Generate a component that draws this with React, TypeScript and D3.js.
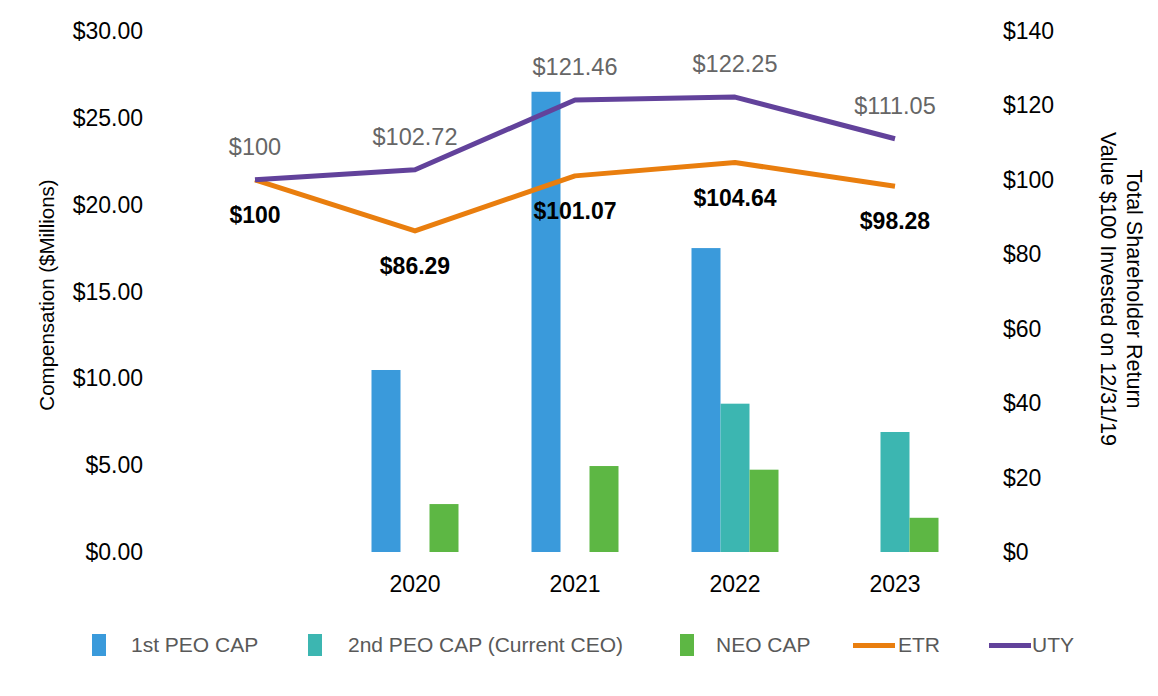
import React from "react";
import * as d3 from "d3";

const years = ["2019", "2020", "2021", "2022", "2023"];
const yearLabels = ["", "2020", "2021", "2022", "2023"];
const peo1Cap: (number | null)[] = [null, 10.48, 26.5, 17.5, null];
const peo2Cap: (number | null)[] = [null, null, null, 8.54, 6.91];
const neoCap: (number | null)[] = [null, 2.76, 4.95, 4.74, 1.97];
const etr = [100, 86.29, 101.07, 104.64, 98.28];
const uty = [100, 102.72, 121.46, 122.25, 111.05];
const leftTicks = [0, 5, 10, 15, 20, 25, 30];
const rightTicks = [0, 20, 40, 60, 80, 100, 120, 140];

const W = 1158, H = 696;
const FONT = "'Liberation Sans', Arial, sans-serif";
const C = { peo1: "#3A9ADB", peo2: "#3CB6B1", neo: "#5DB744", etr: "#E97E0E", uty: "#62429B" };

export default function App() {
  const x = d3.scaleBand<string>().domain(years).range([175, 975]);
  const yL = d3.scaleLinear().domain([0, 30]).range([552, 31]);
  const yR = d3.scaleLinear().domain([0, 140]).range([552, 31]);
  const barW = 29;
  const cx = (y: string) => (x(y) as number) + x.bandwidth() / 2;
  const series = [
    { vals: peo1Cap, color: C.peo1, off: -1.5 },
    { vals: peo2Cap, color: C.peo2, off: -0.5 },
    { vals: neoCap, color: C.neo, off: 0.5 },
  ];
  const line = d3.line<number>().x((_, i) => cx(years[i])).y((d) => yR(d));
  const legend = [
    { type: "rect", color: C.peo1, label: "1st PEO CAP", sx: 92, tx: 131 },
    { type: "rect", color: C.peo2, label: "2nd PEO CAP (Current CEO)", sx: 308, tx: 348 },
    { type: "rect", color: C.neo, label: "NEO CAP", sx: 680, tx: 716 },
    { type: "line", color: C.etr, label: "ETR", sx: 853, tx: 898 },
    { type: "line", color: C.uty, label: "UTY", sx: 989, tx: 1032 },
  ];
  const fmt = (v: number) => "$" + (Number.isInteger(v) ? v : v.toFixed(2));
  return (
    <svg width={W} height={H} style={{ position: "absolute", left: 0, top: 0, background: "#fff" }} fontFamily={FONT}>
      <rect width={W} height={H} fill="#fff" />
      {leftTicks.map((t) => (
        <text key={"l" + t} x={143} y={yL(t)} dy="0.35em" textAnchor="end" fontSize={23} fill="#000">
          {"$" + t.toFixed(2)}
        </text>
      ))}
      {rightTicks.map((t) => (
        <text key={"r" + t} x={1003} y={yR(t)} dy="0.35em" textAnchor="start" fontSize={23} fill="#000">
          {"$" + t}
        </text>
      ))}
      <text transform={`translate(54,295) rotate(-90)`} textAnchor="middle" fontSize={20.5} fill="#000">
        Compensation ($Millions)
      </text>
      <text transform={`translate(1127,289) rotate(90)`} textAnchor="middle" fontSize={21.5} fill="#000">
        Total Shareholder Return
      </text>
      <text transform={`translate(1101,289) rotate(90)`} textAnchor="middle" fontSize={21.5} fill="#000">
        Value $100 Invested on 12/31/19
      </text>
      {years.map((yr, i) => (
        <text key={"x" + yr} x={cx(yr)} y={584} dy="0.35em" textAnchor="middle" fontSize={23} fill="#000">
          {yearLabels[i]}
        </text>
      ))}
      {series.map((s, si) =>
        s.vals.map((v, i) =>
          v == null ? null : (
            <rect key={si + "-" + i} x={cx(years[i]) + s.off * barW} y={yL(v)} width={barW} height={yL(0) - yL(v)} fill={s.color} />
          )
        )
      )}
      <path d={line(etr) || ""} fill="none" stroke={C.etr} strokeWidth={5} strokeLinejoin="round" />
      <path d={line(uty) || ""} fill="none" stroke={C.uty} strokeWidth={5} strokeLinejoin="round" />
      {uty.map((v, i) => (
        <text key={"u" + i} x={cx(years[i])} y={yR(v) - 33} dy="0.35em" textAnchor="middle" fontSize={23.5} fill="#666">
          {fmt(v)}
        </text>
      ))}
      {etr.map((v, i) => (
        <text key={"e" + i} x={cx(years[i])} y={yR(v) + 35} dy="0.35em" textAnchor="middle" fontSize={23} fontWeight="bold" fill="#000">
          {fmt(v)}
        </text>
      ))}
      {legend.map((l) => (
        <g key={l.label}>
          {l.type === "rect" ? (
            <rect x={l.sx} y={634} width={14} height={22} fill={l.color} />
          ) : (
            <rect x={l.sx} y={643} width={42} height={5} fill={l.color} />
          )}
          <text x={l.tx} y={645} dy="0.35em" fontSize={21} fill="#595959">
            {l.label}
          </text>
        </g>
      ))}
    </svg>
  );
}
